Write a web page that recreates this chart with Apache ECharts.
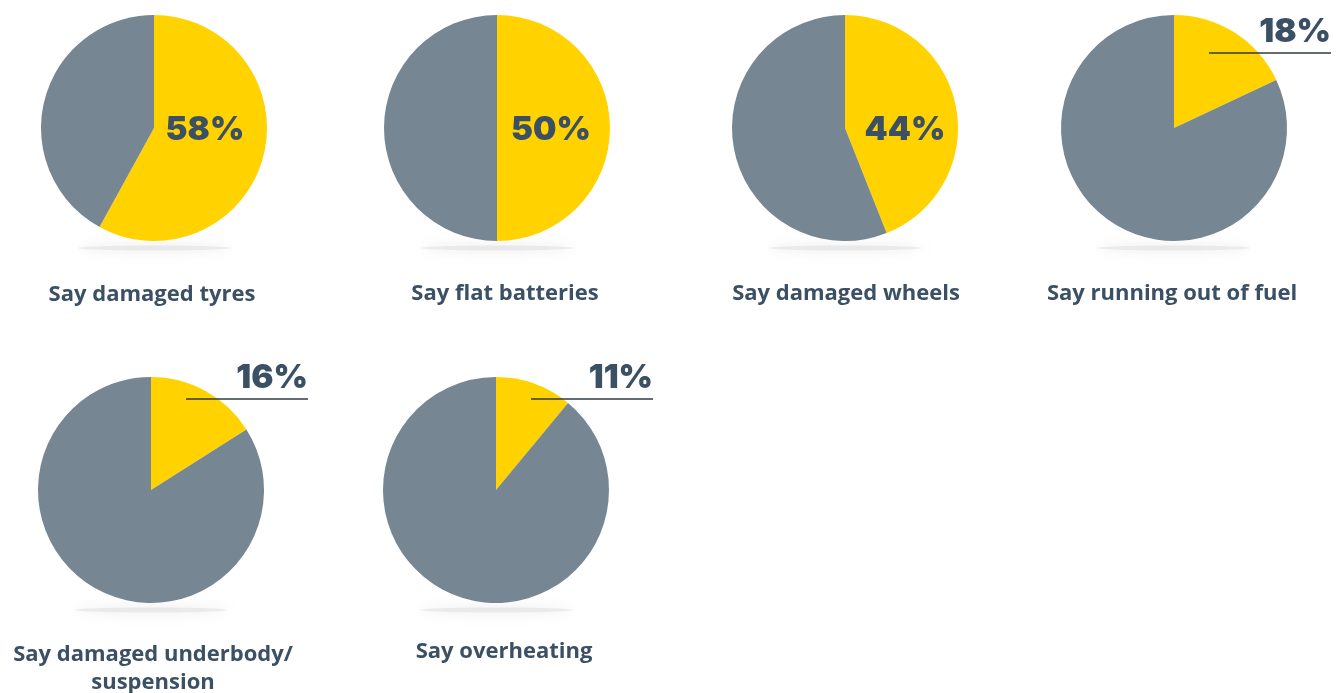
<!DOCTYPE html>
<html>
<head>
<meta charset="utf-8">
<script src="https://cdn.jsdelivr.net/npm/echarts@6/dist/echarts.min.js"></script>
<style>
html,body{margin:0;padding:0;background:#fff;}
#chart{width:1344px;height:693px;}
</style>
</head>
<body>
<div id="chart"></div>
<script>
// ---- data ----
const categories = ['Say damaged tyres', 'Say flat batteries', 'Say damaged wheels', 'Say running out of fuel', 'Say damaged underbody/\nsuspension', 'Say overheating'];
const percentSay = [58, 50, 44, 18, 16, 11];

// ---- layout (positions / sizes) ----
const centers = [[154, 128], [497, 128], [845, 128], [1174, 128], [151, 490], [496, 490]];
const radiusPx = 113;
const titlePos = [[152, 295], [505, 294], [846, 294], [1172, 294], [153, 669], [504, 652]];
const labelShift = [[51, 2], [54, 2], [60, 2], [96, -94], [96, -110], [96, -110]];
const outsideLabel = [false, false, false, true, true, true];

const YELLOW = '#FFD200';
const GREY = '#778693';
const TEXT = '#3B5064';
const TITLE_FONT = '"Open Sans", Lato, sans-serif';
const NUM_FONT = 'Inter, Roboto, sans-serif';

const chart = echarts.init(document.getElementById('chart'), null, {renderer: 'canvas'});

const series = percentSay.map((v, i) => {
  const ext = outsideLabel[i];
  return {
    type: 'pie',
    center: centers[i],
    radius: [0, radiusPx],
    startAngle: 90,
    clockwise: true,
    silent: true,
    animation: false,
    emphasis: {disabled: true},
    avoidLabelOverlap: false,
    itemStyle: {borderWidth: 0},
    labelLine: {show: false},
    labelLayout: {dx: labelShift[i][0], dy: labelShift[i][1]},
    data: [
      {
        name: categories[i],
        value: v,
        itemStyle: {color: YELLOW},
        label: ext ? {
          show: true,
          position: 'center',
          formatter: '{val|' + v + '%}\n{ln|}',
          rich: {
            val: {fontFamily: NUM_FONT, fontWeight: 900, fontSize: 33, lineHeight: 38, color: TEXT, align: 'right', width: 122},
            ln: {width: 122, height: 1.5, lineHeight: 3, backgroundColor: '#2f3b46', align: 'right'}
          }
        } : {
          show: true,
          position: 'center',
          formatter: v + '%',
          fontFamily: NUM_FONT, fontWeight: 900, fontSize: 33, color: TEXT
        }
      },
      {
        name: 'Other',
        value: 100 - v,
        itemStyle: {color: GREY},
        label: {show: false}
      }
    ]
  };
});

const graphics = [];
centers.forEach((c, i) => {
  graphics.push({
    type: 'ellipse',
    silent: true,
    z: -1,
    shape: {cx: c[0], cy: c[1] + radiusPx + 7, rx: 76, ry: 2.5},
    style: {fill: 'rgba(225,225,225,0.6)', shadowBlur: 12, shadowColor: 'rgba(205,205,205,0.9)'}
  });
  graphics.push({
    type: 'text',
    silent: true,
    x: titlePos[i][0],
    y: titlePos[i][1],
    style: {
      text: categories[i],
      fill: TEXT,
      font: 'bold 22px ' + TITLE_FONT,
      textAlign: 'center',
      textVerticalAlign: 'middle',
      lineHeight: 28
    }
  });
});

chart.setOption({
  backgroundColor: '#ffffff',
  animation: false,
  series: series,
  graphic: {elements: graphics}
});
</script>
</body>
</html>
